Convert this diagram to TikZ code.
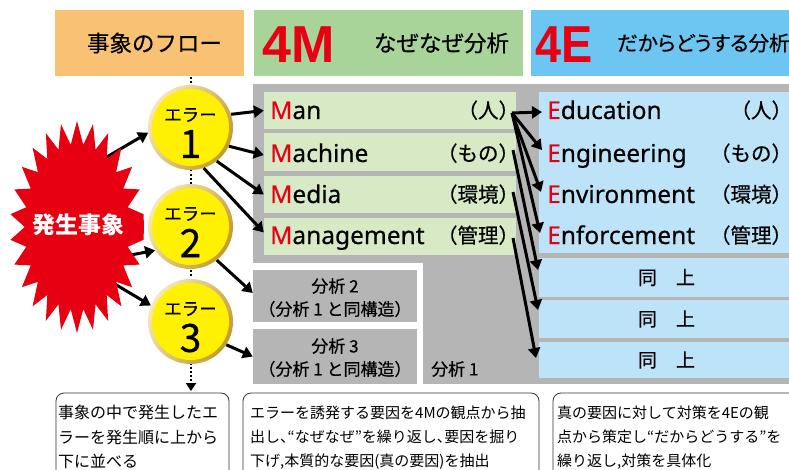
\documentclass[tikz,border=0pt]{standalone}
\usepackage{fontspec}
\setmainfont{Noto Sans CJK JP}
\newfontfamily\latf{Noto Sans}[FakeBold=0.4]
\newfontfamily\arb{Liberation Sans}
\newfontfamily\jph{Noto Sans CJK JP}[RawFeature=+halt]
\newfontfamily\jpm{Noto Sans CJK JP}[FakeBold=0.5]
\newfontfamily\jpmh{Noto Sans CJK JP}[FakeBold=0.5,RawFeature=+halt]
\newfontfamily\jpp{Noto Sans CJK JP}[FakeBold=0.5,RawFeature=+palt]
\usetikzlibrary{arrows.meta}
\definecolor{orH}{HTML}{F8C173}
\definecolor{grH}{HTML}{A8D49A}
\definecolor{blH}{HTML}{6DC6F1}
\definecolor{grayB}{HTML}{B5B5B5}
\definecolor{grI}{HTML}{D8E9C5}
\definecolor{blI}{HTML}{BDE3F8}
\definecolor{redM}{HTML}{E60012}
\definecolor{yel}{HTML}{FFF100}
\definecolor{goldL}{HTML}{F6E9B8}
\definecolor{goldD}{HTML}{C49A2C}
\begin{document}
\begin{tikzpicture}[x=1pt,y=-1pt,
  rect/.style={rectangle, inner sep=0, draw=none, minimum width=#1},
  hdr/.style={inner sep=0, font=\jpm\fontsize{22.5}{26}\selectfont},
  big/.style={inner sep=0, anchor=base west, text=redM, font=\arb\bfseries\fontsize{52}{56}\selectfont},
  item/.style={anchor=base west, inner sep=0, font=\latf\fontsize{24.5}{28}\selectfont},
  jp/.style={anchor=base east, inner sep=0, font=\jpmh\fontsize{20.5}{24}\selectfont},
  same/.style={inner sep=0, font=\jpm\fontsize{19}{22}\selectfont},
  ana/.style={inner sep=0, font=\jpm\fontsize{17}{20}\selectfont},
  note/.style={anchor=base west, inner sep=0},
  errc/.style={circle, minimum size=85pt, inner sep=0, left color=goldL, right color=goldD, shading angle=60,
     path picture={\fill[yel] (path picture bounding box.center) circle (38.5pt);}},
  arr/.style={line width=3pt, -{Triangle[length=10pt,width=12pt]}},
  dotline/.style={line width=2pt, dash pattern=on 2pt off 2.2pt, -{Triangle[length=8pt,width=10pt]}},
  bbox/.style={rectangle, draw=black!80, line width=0.8pt, rounded corners=8pt, inner sep=0, fill=white}
]
\useasboundingbox (0,0) rectangle (789,470);
\clip (0,0) rectangle (789,470);

% headers
\node[rect=189pt, minimum height=66pt, fill=orH] (hb1) at (149.5,43) {};
\node[rect=269pt, minimum height=66pt, fill=grH] (hb2) at (388.5,43) {};
\node[rect=269pt, minimum height=66pt, fill=blH] (hb3) at (665.5,43) {};
\node[hdr] (h1) at (154.5,43) {事象のフロー};
\node[big] (m4) at (262,63) {4M};
\node[hdr] (h2) at (441.5,43) {なぜなぜ分析};
\node[big, xscale=0.9, anchor=base west] (e4) at (535,63) {4E};
\node[hdr, anchor=west, font=\jpp\fontsize{20.5}{26}\selectfont] (h3) at (617,43) {だからどうする分析};

% gray area
\fill[grayB] (253,84) rectangle (800,384);
\fill[white] (253,263) rectangle (423,384);
\node[rect=164pt, minimum height=52pt, fill=grayB] (a2) at (335,296) {};
\node[rect=164pt, minimum height=55pt, fill=grayB] (a3) at (335,356.5) {};

% 4M boxes
\node[rect=252pt, minimum height=37pt, fill=grI] (man) at (390,110.5) {};
\node[rect=252pt, minimum height=38pt, fill=grI] (mach) at (390,152) {};
\node[rect=252pt, minimum height=37pt, fill=grI] (media) at (390,194.5) {};
\node[rect=252pt, minimum height=37pt, fill=grI] (mgmt) at (390,236.5) {};

% 4E boxes
\node[rect=261pt, minimum height=161pt, fill=blI] (eb) at (669.5,172.5) {};
\node[rect=261pt, minimum height=39pt, fill=blI] (s1) at (669.5,277.5) {};
\node[rect=261pt, minimum height=38pt, fill=blI] (s2) at (669.5,319) {};
\node[rect=261pt, minimum height=36pt, fill=blI] (s3) at (669.5,360) {};

% 4M texts
\node[item] (tman) at (270,119) {\textcolor{redM}{\bfseries M}an};
\node[item] (tmach) at (270,162) {\textcolor{redM}{\bfseries M}achine};
\node[item] (tmed) at (270,203) {\textcolor{redM}{\bfseries M}edia};
\node[item] (tmgt) at (270,244) {\textcolor{redM}{\bfseries M}anagement};
\node[jp] (jman) at (509,118) {（人）};
\node[jp] (jmach) at (509,161) {（もの）};
\node[jp] (jmed) at (509,202) {（環境）};
\node[jp] (jmgt) at (509,243) {（管理）};

% 4E texts
\node[item] (tedu) at (547,119) {\textcolor{redM}{\bfseries E}ducation};
\node[item] (teng) at (547,162) {\textcolor{redM}{\bfseries E}ngineering};
\node[item] (tenv) at (547,203) {\textcolor{redM}{\bfseries E}nvironment};
\node[item] (tenf) at (547,244) {\textcolor{redM}{\bfseries E}nforcement};
\node[jp] (jedu) at (782,118) {（人）};
\node[jp] (jeng) at (782,161) {（もの）};
\node[jp] (jenv) at (782,202) {（環境）};
\node[jp] (jenf) at (782,243) {（管理）};

\node[same] (d1) at (666.5,277.5) {同　上};
\node[same] (d2) at (666.5,319) {同　上};
\node[same] (d3) at (666.5,360) {同　上};

\node[ana] (a2a) at (335,286) {分析 2};
\node[ana] (a2b) at (335,309) {（分析 1 と同構造）};
\node[ana] (a3a) at (335,346) {分析 3};
\node[ana] (a3b) at (335,369) {（分析 1 と同構造）};
\node[ana, anchor=west] (a1) at (431,369) {分析 1};

% dotted flow line
\coordinate (dtop) at (191,77);
\coordinate (dbot) at (191,391);
\draw[dotline] (dtop) -- (dbot);

% circles
\node[errc] (c1) at (190.5,127.5) {};
\node[errc] (c2) at (190.5,226.5) {};
\node[errc] (c3) at (190.5,321.5) {};
\node[inner sep=0, font=\jpm\fontsize{17.5}{20}\selectfont] (c1t) at (190.5,115) {エラー};
\node[inner sep=0, font=\jpm\fontsize{39}{42}\selectfont] (c1n) at (190.5,144) {1};
\node[inner sep=0, font=\jpm\fontsize{17.5}{20}\selectfont] (c2t) at (190.5,214) {エラー};
\node[inner sep=0, font=\jpm\fontsize{39}{42}\selectfont] (c2n) at (190.5,243) {2};
\node[inner sep=0, font=\jpm\fontsize{17.5}{20}\selectfont] (c3t) at (190.5,309) {エラー};
\node[inner sep=0, font=\jpm\fontsize{39}{42}\selectfont] (c3n) at (190.5,338) {3};

% arrows from circles to analyses
\draw[arr] (c1.18) -- (man.west);
\draw[arr] (c1.-26) -- ([yshift=-3pt]mach.west);
\draw[arr] (c1.-52) -- (media.west);
\draw[arr] (c1.-72) -- ([yshift=4pt]mgmt.west);
\draw[arr] (c2.-52) -- ([yshift=3pt]a2.west);
\draw[arr] (c3.-33) -- (a3.west);

% star arrows
\coordinate (st1) at (100,161);
\coordinate (st2) at (115,258);
\coordinate (st3) at (108,280);
\draw[arr] (st1) -- (c1.187);
\draw[arr] (st2) -- (c2.214);
\draw[arr] (st3) -- (c3.158);

% star
\fill[redM] (144,227) \foreach \i in {1,...,51} { -- ({77+67*(0.78+0.22*mod(\i,2))*cos(\i*6.923077)},{227-106*(0.78+0.22*mod(\i,2))*sin(\i*6.923077)}) } -- cycle;
\node[inner sep=0, text=white, font=\bfseries\fontsize{23}{26}\selectfont] (star) at (78,225) {発生事象};

% 4M -> 4E arrows
\coordinate (msrc) at (512,113);
\coordinate (mcsrc) at (513,150);
\coordinate (mdsrc) at (513,192);
\coordinate (mgsrc) at (513,238);
\coordinate (t1) at (542,112);
\coordinate (t2) at (542,150);
\coordinate (t3) at (541,192);
\coordinate (t4) at (540,233);
\coordinate (u1) at (538,270);
\coordinate (u2) at (538,310);
\coordinate (u3) at (536,358);
\draw[arr] (msrc) -- (t1);
\draw[arr] (msrc) -- (t2);
\draw[arr] (msrc) -- (t3);
\draw[arr] (msrc) -- (t4);
\draw[arr] (mcsrc) -- (u1);
\draw[arr] (mdsrc) -- (u2);
\draw[arr] (mgsrc) -- (u3);

% bottom notes
\node[bbox, minimum width=173pt, minimum height=94pt] (b1) at (142.5,440) {};
\node[bbox, minimum width=296pt, minimum height=94pt] (b2) at (391,440) {};
\node[bbox, minimum width=267pt, minimum height=94pt] (b3) at (686.5,440) {};
\begin{scope}[every node/.style={note, font=\fontsize{16}{24}\selectfont}]
\node (n11) at (58,418.5) {事象の中で発生したエ};
\node (n12) at (58,443) {ラーを発生順に上から};
\node (n13) at (58,467) {下に並べる};
\end{scope}
\begin{scope}[every node/.style={note, font=\jph\fontsize{15}{24}\selectfont}]
\node (n21) at (250,418) {エラーを誘発する要因を4Mの観点から抽};
\node (n22) at (250,442.5) {出し、“なぜなぜ”を繰り返し、要因を掘り};
\node (n23) at (250,466.5) {下げ,本質的な要因(真の要因)を抽出};
\node (n31) at (557,418) {真の要因に対して対策を4Eの観};
\node (n32) at (557,442.5) {点から策定し“だからどうする”を};
\node (n33) at (557,466.5) {繰り返し,対策を具体化};
\end{scope}
\end{tikzpicture}
\end{document}
